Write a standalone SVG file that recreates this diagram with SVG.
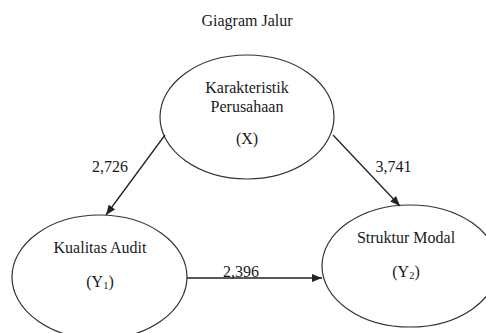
<svg xmlns="http://www.w3.org/2000/svg" width="486" height="333" viewBox="0 0 486 333" font-family="'Liberation Serif', 'Times New Roman', Times, serif">
<style>
text{font-family:'Liberation Serif','Times New Roman',Times,serif;font-size:16px;fill:#1a1a1a;text-anchor:middle}
.node ellipse{fill:#fff;stroke:#333;stroke-width:1.2}
.edge{stroke:#222;stroke-width:1.3;fill:none;marker-end:url(#ah)}
.sub{font-size:10.5px}
</style>
<defs>
<marker id="ah" viewBox="0 0 10 8" refX="10" refY="4" markerWidth="10" markerHeight="8" markerUnits="userSpaceOnUse" orient="auto">
<path d="M0,0L10,4L0,8z" fill="#222"/>
</marker>
</defs>
<rect width="486" height="333" fill="#fff"/>
<text x="247" y="25.5">Giagram Jalur</text>
<g id="X" class="node">
<ellipse cx="247" cy="117" rx="87" ry="62"/>
<text x="247" y="92.5">Karakteristik</text>
<text x="247" y="111.5">Perusahaan</text>
<text x="247" y="144">(X)</text>
</g>
<g id="Y1" class="node">
<ellipse cx="99.5" cy="277" rx="87.5" ry="62"/>
<text x="100" y="253">Kualitas Audit</text>
<text x="100" y="287">(Y<tspan class="sub" dy="2">1</tspan><tspan dy="-2">)</tspan></text>
</g>
<g id="Y2" class="node">
<ellipse cx="410" cy="266" rx="88" ry="61"/>
<text x="406" y="243">Struktur Modal</text>
<text x="406" y="277">(Y<tspan class="sub" dy="2">2</tspan><tspan dy="-2">)</tspan></text>
</g>
<g id="connectors">
<line class="edge" x1="165" y1="135" x2="106" y2="215"/>
<line class="edge" x1="333" y1="135" x2="400" y2="206"/>
<line class="edge" x1="187" y1="278" x2="322" y2="278"/>
<text x="110" y="172">2,726</text>
<text x="393.5" y="172">3,741</text>
<text x="241" y="277">2,396</text>
</g>
</svg>
